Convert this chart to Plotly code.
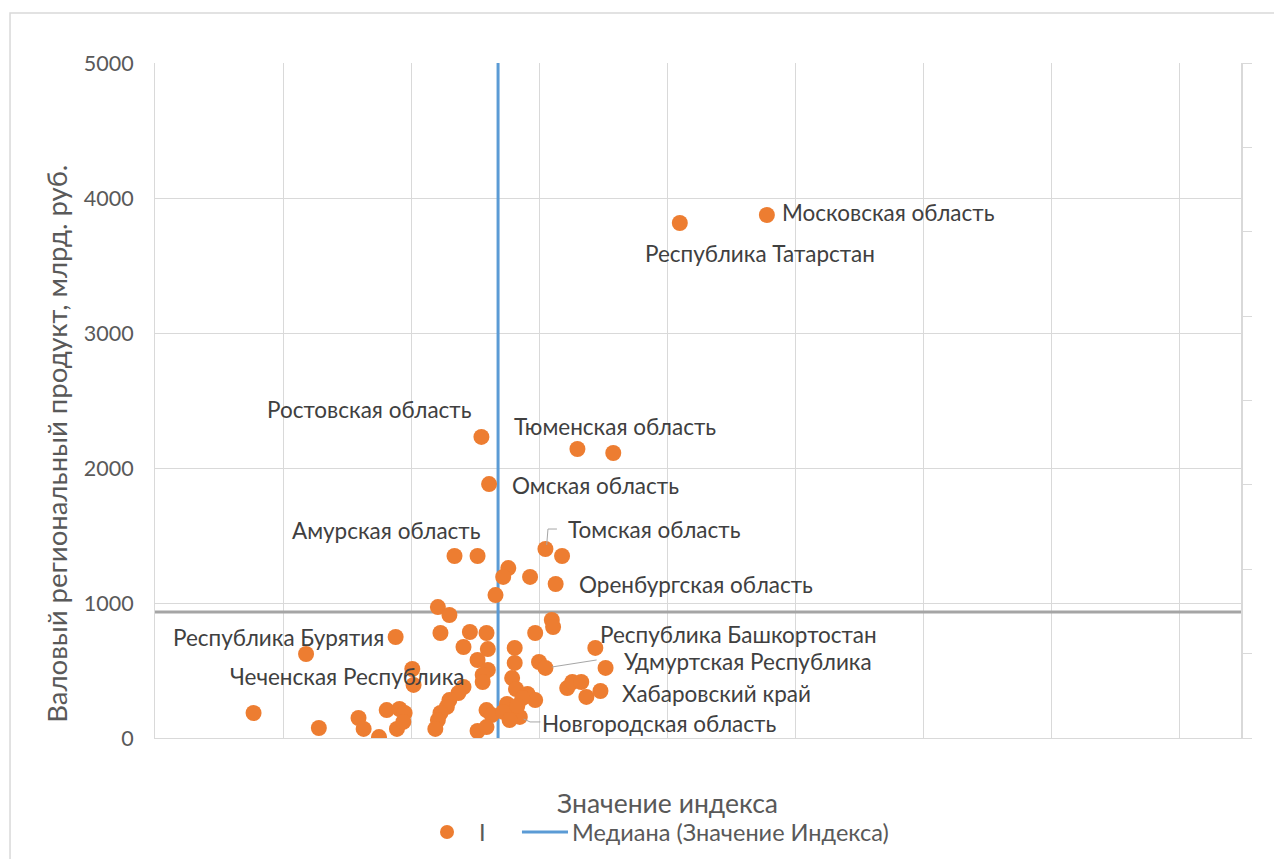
import plotly.graph_objects as go

# ---- data (index value, GRP in bn rub) ----
index_vals = [0.478, 0.410, 0.255, 0.330, 0.358, 0.261, 0.234, 0.252, 0.305, 0.318,
              0.276, 0.272, 0.293, 0.313, 0.266, 0.221, 0.230, 0.310, 0.311, 0.223,
              0.246, 0.259, 0.297, 0.188, 0.118, 0.241, 0.260, 0.281, 0.344, 0.252,
              0.281, 0.300, 0.305, 0.352, 0.201, 0.202, 0.260, 0.256, 0.256, 0.279,
              0.282, 0.241, 0.237, 0.230, 0.228, 0.223, 0.221, 0.219, 0.322, 0.326,
              0.333, 0.337, 0.348, 0.291, 0.297, 0.287, 0.275, 0.280, 0.285, 0.259,
              0.263, 0.252, 0.259, 0.077, 0.128, 0.159, 0.163, 0.175, 0.181, 0.191,
              0.195, 0.189, 0.194, 0.272, 0.283, 0.277]
grp_vals = [3874, 3815, 2230, 2141, 2111, 1881, 1348, 1348, 1400, 1348,
            1259, 1193, 1193, 1141, 1059, 970, 911, 874, 822, 778,
            785, 778, 778, 748, 622, 674, 659, 667, 667, 578,
            556, 563, 519, 519, 511, 393, 504, 467, 415, 444,
            363, 378, 333, 281, 230, 185, 133, 67, 370, 415,
            415, 304, 348, 326, 281, 296, 252, 185, 156, 207,
            170, 52, 81, 185, 74, 148, 67, 7, 207, 215,
            185, 67, 119, 193, 237, 133]
region_names = ["Московская область", "Республика Татарстан", "Ростовская область", "",
                "Тюменская область", "Омская область", "Амурская область", "",
                "Томская область", "", "", "", "", "Оренбургская область", "", "", "",
                "", "", "", "", "", "", "Республика Бурятия", "", "", "", "",
                "Республика Башкортостан", "", "", "", "Удмуртская Республика", "",
                "", "Чеченская Республика", "", "", "", "", "", "", "", "", "", "",
                "", "", "", "", "", "", "Хабаровский край", "", "", "", "", "",
                "Новгородская область", "", "", "", "", "", "", "", "", "", "", "",
                "", "", "", "", "", ""]
median_index = 0.268
median_grp = 933

series_name = "I"
median_name = "Медиана (Значение Индекса)"
x_title = "Значение индекса"
y_title = "Валовый региональный продукт, млрд. руб."

# ---- styling ----
FONT = "Lato, 'Noto Sans', sans-serif"
S_LABEL = 22.5
S_TICK = 21.5
S_TITLE = 26.5
S_YTITLE = 27.5
S_LEGEND = 23.5
ORANGE = "#ED7D31"
BLUE = "#5B9BD5"
GREY_LINE = "#A5A5A5"
GRID = "#D9D9D9"

# label placement: name -> (xanchor, xshift px, yshift px)
label_pos = {
    "Московская область": ("left", 13, 3),
    "Республика Татарстан": ("left", -37, -31),
    "Ростовская область": ("right", -7, 27),
    "Тюменская область": ("left", -101, 27),
    "Омская область": ("left", 21, -1),
    "Амурская область": ("right", 28, 26),
    "Томская область": ("left", 21, 20),
    "Оренбургская область": ("left", 21, -1),
    "Республика Бурятия": ("right", -10, 0),
    "Республика Башкортостан": ("left", 3, 13),
    "Удмуртская Республика": ("left", 77, 6),
    "Чеченская Республика": ("left", -186, 8),
    "Хабаровский край": ("left", 20, -2),
    "Новгородская область": ("left", 20, -7),
}

fig = go.Figure()

fig.add_trace(go.Scatter(
    x=[0, 0.8484], y=[median_grp, median_grp], mode="lines",
    line=dict(color=GREY_LINE, width=3), showlegend=False, hoverinfo="skip"))
fig.add_trace(go.Scatter(
    x=[median_index, median_index], y=[0, 5000], mode="lines",
    line=dict(color=BLUE, width=3), name=median_name, showlegend=False))
fig.add_trace(go.Scatter(
    x=index_vals, y=grp_vals, mode="markers", name=series_name,
    marker=dict(color=ORANGE, size=16, line=dict(width=0)),
    text=region_names, showlegend=False))
# dummy trace for secondary axis
fig.add_trace(go.Scatter(x=[None], y=[None], yaxis="y2", showlegend=False))

annotations = []
for xv, yv, nm in zip(index_vals, grp_vals, region_names):
    if nm:
        xa, xs, ys = label_pos[nm]
        annotations.append(dict(x=xv, y=yv, xref="x", yref="y", text=nm,
                                showarrow=False, xanchor=xa, yanchor="middle",
                                xshift=xs, yshift=ys,
                                font=dict(size=S_LABEL, color="#404040", family=FONT)))

# axis titles and legend (manual)
annotations += [
    dict(x=0.4715, y=-0.0963, xref="paper", yref="paper", text=x_title, showarrow=False,
         xanchor="center", yanchor="middle", font=dict(size=S_TITLE, color="#595959", family=FONT)),
    dict(x=-0.0902, y=0.4360, xref="paper", yref="paper", text=y_title, showarrow=False,
         textangle=-90, xanchor="center", yanchor="middle",
         font=dict(size=S_YTITLE, color="#595959", family=FONT)),
    dict(x=0.3020, y=-0.1393, xref="paper", yref="paper", text=series_name, showarrow=False,
         xanchor="center", yanchor="middle", font=dict(size=S_LEGEND, color="#595959", family=FONT)),
    dict(x=0.3820, y=-0.1393, xref="paper", yref="paper", text=median_name, showarrow=False,
         xanchor="left", yanchor="middle", font=dict(size=S_LEGEND, color="#595959", family=FONT)),
]

shapes = [
    # chart border
    dict(type="rect", xref="paper", yref="paper", x0=-0.1335, x1=1.3, y0=-0.5, y1=1.0741,
         line=dict(color=GRID, width=1.5), fillcolor="rgba(0,0,0,0)", layer="below"),
    # legend marker and line
    dict(type="circle", xref="paper", yref="paper", xsizemode="pixel", ysizemode="pixel",
         xanchor=0.2689, yanchor=-0.1393, x0=-7, x1=7, y0=-7, y1=7,
         fillcolor=ORANGE, line=dict(width=0)),
    dict(type="line", xref="paper", yref="paper", x0=0.3379, x1=0.3803, y0=-0.1393, y1=-0.1393,
         line=dict(color=BLUE, width=3)),
    # leader lines
    dict(type="path", xref="x", yref="y", path="M 0.306 1430 L 0.307 1548 L 0.314 1548",
         line=dict(color="#A6A6A6", width=1)),
    dict(type="path", xref="x", yref="y", path="M 0.310 526 L 0.345 578",
         line=dict(color="#A6A6A6", width=1)),
    dict(type="path", xref="x", yref="y", path="M 0.288 141 L 0.293 119 L 0.301 119",
         line=dict(color="#A6A6A6", width=1)),
]

fig.update_layout(
    width=1266, height=851,
    margin=dict(l=147, r=33, t=55, b=121, pad=0),
    paper_bgcolor="white", plot_bgcolor="white",
    font=dict(family=FONT, size=S_TICK, color="#595959"),
    xaxis=dict(range=[0, 0.8484], tick0=0, dtick=0.1, showticklabels=False,
               showgrid=True, gridcolor=GRID, gridwidth=1, zeroline=False,
               showline=True, linecolor=GRID, linewidth=1, ticks=""),
    yaxis=dict(range=[0, 5000], dtick=1000, showgrid=True, gridcolor=GRID, gridwidth=1,
               zeroline=False, showline=True, linecolor=GRID, ticks="",
               ticklabelstandoff=16, tickfont=dict(size=S_TICK, color="#595959", family=FONT)),
    yaxis2=dict(range=[0, 8], dtick=1, overlaying="y", side="right", showgrid=False,
                zeroline=False, showline=True, linecolor=GRID, linewidth=1.5,
                ticks="outside", ticklen=9, tickcolor=GRID, showticklabels=False),
    annotations=annotations,
    shapes=shapes,
    showlegend=False,
)

fig.write_html("out.html")
